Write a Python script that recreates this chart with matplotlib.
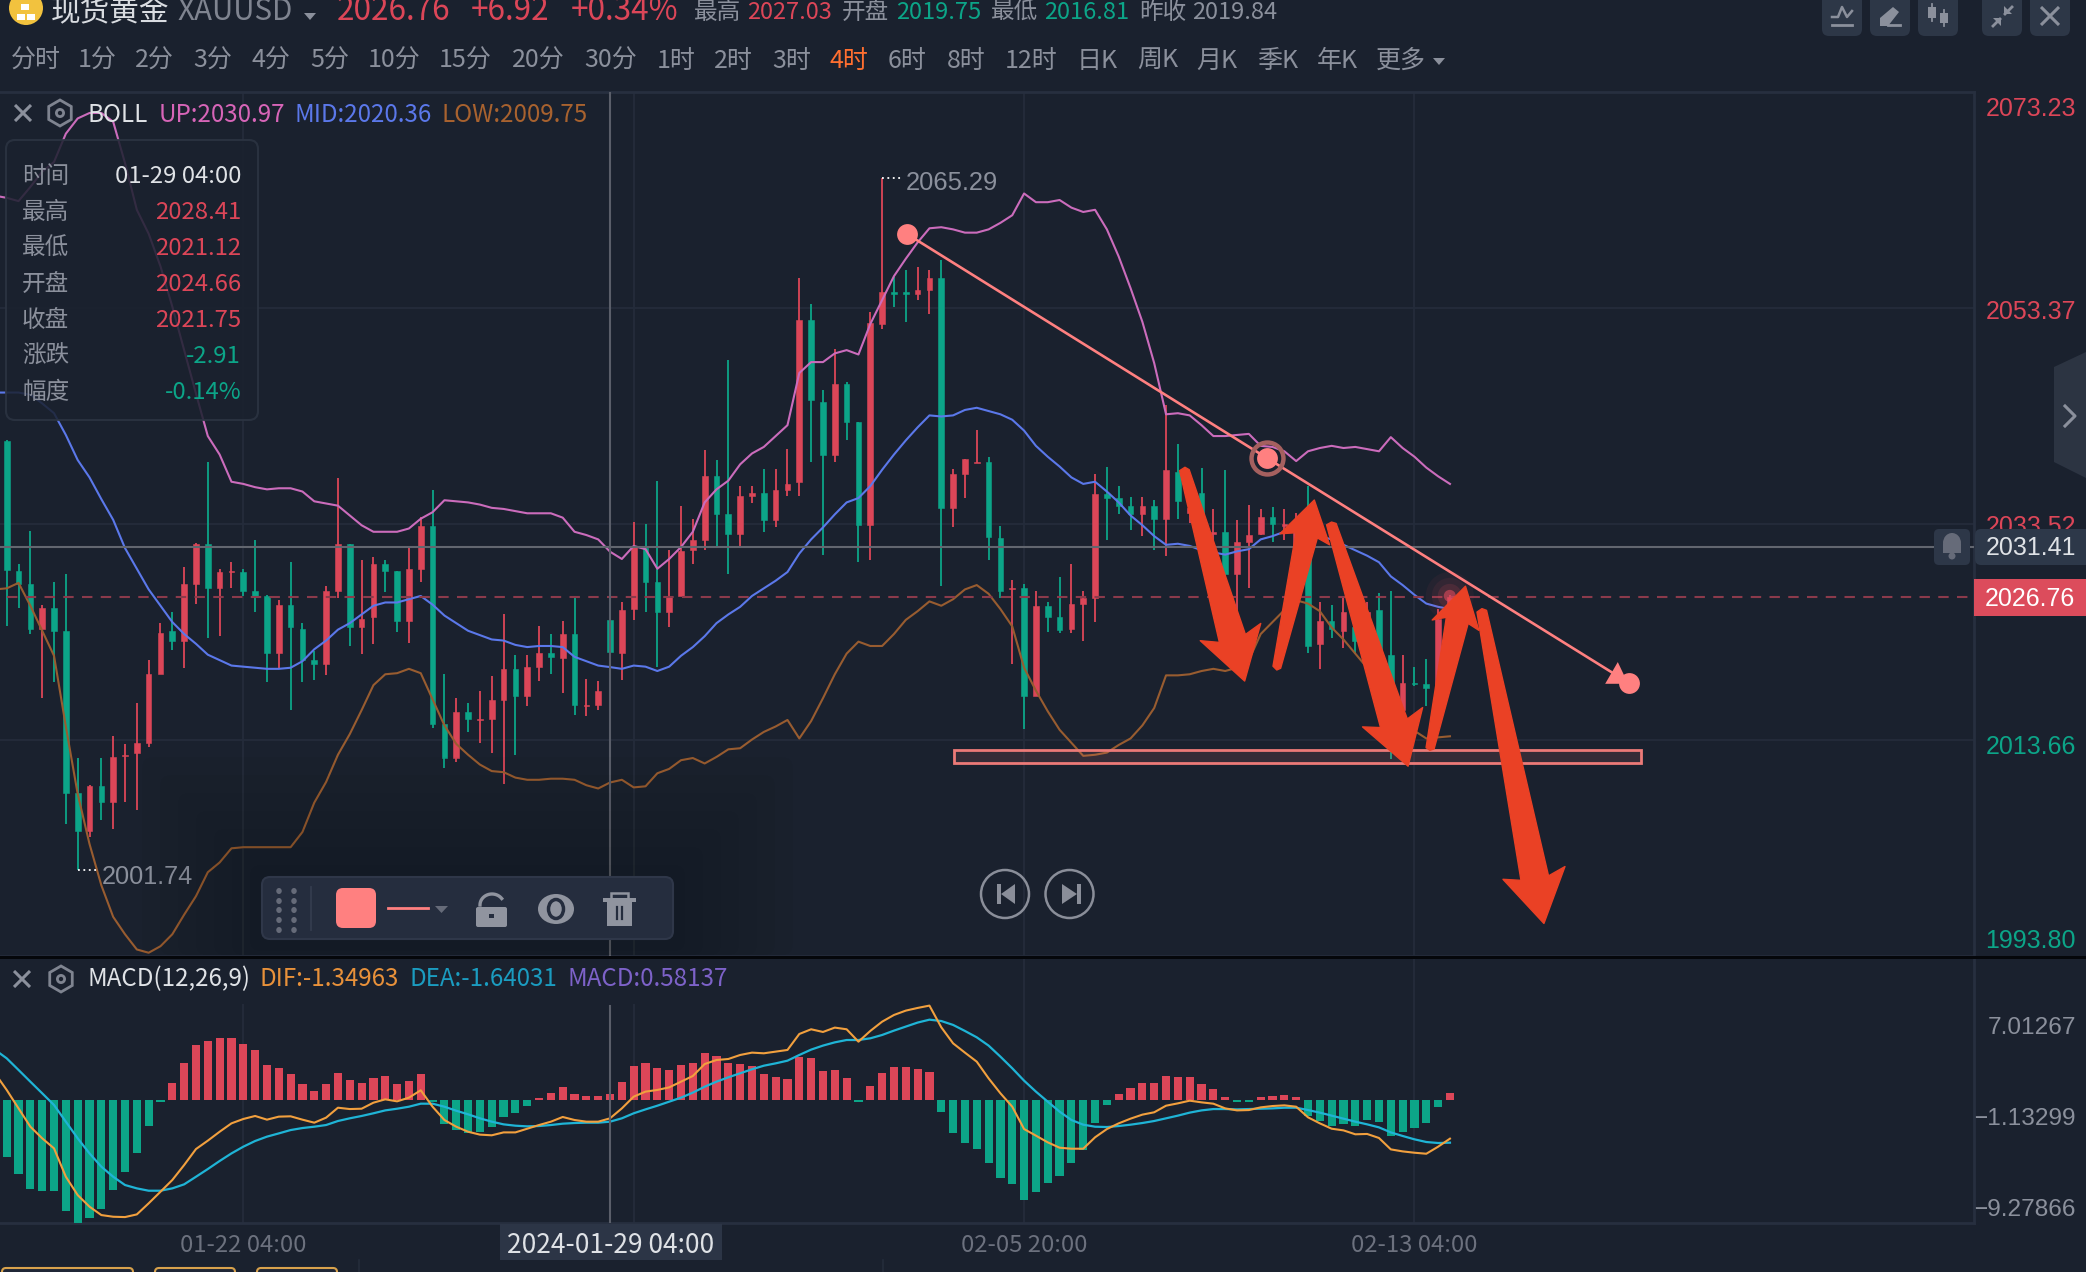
import numpy as np
import matplotlib
matplotlib.use("Agg")
import matplotlib.pyplot as plt
from matplotlib.patches import Polygon, Rectangle, FancyBboxPatch, Circle, Ellipse, RegularPolygon
from matplotlib.transforms import Affine2D

plt.rcParams['font.family'] = ['Noto Sans CJK SC', 'DejaVu Sans']

# ---------------- data ----------------
opens = [2041.1,2029.2,2028.0,2023.9,2025.8,2023.7,2008.8,2005.3,2009.4,2008.0,
 2012.2,2012.5,2013.4,2019.7,2023.7,2022.8,2028.0,2031.7,2027.6,2029.1,
 2029.1,2027.4,2026.9,2021.7,2026.1,2023.9,2021.0,2020.6,2027.4,2031.7,
 2024.0,2025.0,2029.8,2029.2,2024.6,2029.4,2033.3,2015.1,2012.0,2016.2,
 2015.5,2015.6,2017.3,2020.2,2017.7,2020.4,2021.7,2021.2,2023.4,2016.8,
 2016.9,2024.66,2021.7,2025.7,2031.3,2028.2,2025.4,2026.9,2031.1,2032.0,
 2037.9,2034.4,2032.6,2036.1,2036.4,2033.9,2036.6,2037.4,2052.3,2044.7,
 2039.9,2046.4,2042.9,2033.4,2051.9,2054.8,2054.8,2054.7,2055.0,2056.1,
 2035.0,2038.1,2039.1,2039.2,2032.2,2027.5,2027.6,2017.7,2026.0,2025.0,
 2023.9,2026.2,2026.7,2036.3,2035.9,2035.2,2034.4,2035.2,2034.0,2038.3,
 2034.5,2036.4,2032.6,2032.8,2028.9,2031.9,2032.6,2034.2,2033.3,2031.5,
 2032.4,2022.5,2024.6,2023.7,2024.0,2023.0,2025.6,2021.5,2016.4,2018.9,
 2018.8,2018.6,2024.8]
closes = [2029.3,2028.0,2023.9,2025.8,2023.7,2008.8,2005.3,2009.4,2008.0,2012.1,
 2012.3,2013.4,2019.7,2023.5,2022.8,2028.0,2031.7,2027.6,2029.1,2029.2,
 2027.4,2026.9,2021.7,2026.1,2024.0,2021.0,2020.6,2027.4,2031.7,2024.0,
 2024.8,2029.8,2029.2,2024.6,2029.4,2033.3,2015.1,2012.0,2016.2,2015.6,
 2015.6,2017.3,2020.2,2017.7,2020.4,2021.7,2021.3,2023.4,2016.9,2016.9,
 2018.2,2021.75,2025.6,2031.4,2028.2,2025.4,2026.9,2031.0,2032.0,2037.9,
 2034.4,2032.6,2036.1,2036.4,2033.9,2036.6,2037.2,2052.3,2044.9,2039.9,
 2046.4,2042.9,2033.4,2052.0,2054.8,2054.7,2054.7,2055.0,2056.1,2035.0,
 2038.1,2039.5,2039.2,2032.3,2027.4,2027.6,2017.7,2026.0,2025.0,2023.8,
 2026.2,2026.7,2036.3,2035.9,2035.2,2034.4,2035.2,2034.0,2038.5,2035.6,
 2035.0,2032.7,2032.8,2028.9,2031.9,2032.5,2034.2,2033.5,2033.5,2033.4,
 2022.3,2024.6,2023.9,2025.4,2022.8,2025.4,2021.5,2018.4,2018.9,2018.8,
 2018.4,2024.8,2026.76]
highs = [2041.2,2029.8,2032.9,2026.1,2028.2,2028.9,2012.0,2009.5,2012.0,2014.0,
 2013.3,2017.1,2021.0,2024.4,2025.4,2029.6,2031.8,2039.2,2029.4,2030.0,
 2029.4,2032.0,2027.0,2026.5,2030.0,2024.4,2021.8,2027.8,2037.7,2031.7,
 2030.2,2030.5,2030.2,2029.2,2031.4,2034.2,2036.6,2019.7,2017.5,2017.1,
 2018.2,2019.5,2025.2,2021.5,2021.5,2024.1,2023.4,2024.6,2026.7,2019.3,
 2019.1,2028.41,2026.3,2033.7,2033.5,2037.5,2031.1,2035.2,2034.0,2040.3,
 2039.4,2048.6,2037.0,2037.0,2038.6,2038.6,2040.4,2056.1,2053.7,2045.8,
 2049.6,2046.6,2042.9,2053.0,2065.29,2056.2,2056.9,2057.1,2056.9,2057.8,
 2038.6,2039.5,2042.2,2039.7,2033.3,2028.4,2028.0,2027.4,2026.3,2028.6,
 2029.8,2027.4,2038.1,2038.8,2037.0,2036.0,2036.0,2035.7,2044.5,2040.9,
 2036.2,2038.7,2034.9,2038.5,2033.9,2035.3,2034.9,2035.1,2034.9,2034.5,
 2037.0,2026.3,2026.1,2026.8,2024.6,2026.3,2027.2,2027.4,2021.5,2020.4,
 2021.1,2025.7,2027.03]
lows = [2024.1,2025.8,2023.4,2017.5,2019.0,2005.9,2001.74,2004.7,2006.3,2005.5,
 2008.0,2007.2,2013.0,2019.7,2021.9,2020.3,2026.2,2023.0,2023.2,2027.6,
 2026.9,2025.4,2019.0,2020.3,2016.4,2019.0,2019.2,2019.6,2026.7,2022.3,
 2021.6,2022.5,2027.3,2023.6,2022.6,2028.2,2014.8,2011.1,2011.6,2014.4,
 2013.4,2012.5,2009.6,2012.3,2016.8,2019.1,2019.7,2018.0,2016.0,2015.9,
 2016.4,2021.12,2019.2,2024.7,2025.4,2020.4,2024.0,2026.9,2029.8,2031.1,
 2031.5,2028.9,2031.5,2035.4,2032.8,2033.2,2036.1,2036.1,2039.2,2030.7,
 2039.2,2041.2,2030.0,2030.2,2051.4,2053.5,2052.1,2054.1,2052.8,2027.8,
 2033.2,2035.9,2039.1,2030.2,2026.7,2020.6,2014.7,2017.7,2023.6,2023.5,
 2023.5,2022.8,2024.5,2032.0,2034.4,2033.0,2032.4,2031.1,2030.6,2034.0,
 2033.6,2031.9,2029.7,2028.1,2024.9,2027.6,2032.5,2031.9,2032.0,2030.8,
 2021.7,2020.2,2023.0,2022.1,2021.6,2021.1,2019.5,2011.9,2014.8,2018.6,
 2016.8,2018.6,2024.4]
# indicator series start one bar before the first visible candle (index -1)
boll_up = [2063.7,2063.5,2063.2,2064.5,2065.9,2066.8,2069.4,2070.8,2071.3,2071.3,2070.5,
 2066.7,2062.4,2060.2,2057.2,2053.5,2049.5,2045.5,2041.6,2039.9,2037.4,
 2037.2,2036.9,2036.7,2036.8,2036.8,2036.5,2035.6,2035.4,2035.2,2034.3,
 2033.4,2032.8,2032.8,2032.8,2033.1,2034.0,2034.6,2035.7,2035.6,2035.5,
 2035.3,2035.0,2034.9,2034.7,2034.5,2034.5,2034.5,2034.1,2032.8,2032.5,
 2032.1,2030.97,2030.3,2031.5,2031.2,2029.4,2030.3,2031.4,2032.8,2035.5,
 2036.7,2037.5,2039.0,2040.0,2040.6,2041.6,2042.6,2047.4,2048.4,2048.4,
 2049.2,2049.5,2049.1,2051.9,2054.1,2056.3,2057.9,2059.4,2060.7,2060.8,
 2060.6,2060.3,2060.3,2060.6,2061.2,2061.9,2063.9,2063.1,2063.1,2063.3,
 2062.6,2062.2,2062.4,2060.6,2058.1,2055.2,2052.1,2048.3,2043.6,2043.7,
 2043.5,2042.6,2041.6,2041.6,2041.7,2041.8,2040.7,2040.6,2040.2,2039.3,
 2040.2,2040.5,2040.7,2040.5,2040.6,2040.4,2040.2,2041.5,2040.5,2039.7,
 2038.7,2037.9,2037.2]
boll_mid = [2045.6,2045.6,2045.6,2045.4,2044.6,2043.7,2041.7,2039.4,2037.8,2035.8,2033.9,
 2031.3,2029.4,2027.5,2026.0,2024.5,2023.4,2022.5,2021.5,2021.0,2020.5,
 2020.4,2020.3,2020.2,2020.2,2020.3,2020.9,2022.0,2022.8,2023.8,2024.4,
 2025.2,2026.0,2026.3,2026.3,2026.6,2026.9,2026.1,2025.1,2024.4,2023.7,
 2023.3,2022.9,2022.8,2022.4,2022.2,2022.3,2022.3,2022.2,2021.3,2020.9,
 2020.5,2020.36,2020.2,2020.5,2020.4,2020.0,2020.4,2021.4,2022.2,2023.2,
 2024.4,2025.2,2025.9,2026.9,2027.6,2028.3,2029.1,2030.8,2032.1,2033.2,
 2034.4,2035.5,2035.9,2037.0,2038.5,2039.9,2041.2,2042.4,2043.5,2043.4,
 2043.5,2044.0,2044.2,2043.9,2043.6,2043.1,2042.1,2040.7,2039.7,2038.8,
 2037.8,2037.2,2037.4,2036.5,2035.5,2034.3,2033.4,2032.4,2031.6,2031.7,
 2031.5,2031.1,2030.9,2030.7,2031.0,2031.2,2032.1,2032.4,2032.8,2033.2,
 2032.7,2032.4,2032.1,2031.6,2031.1,2030.6,2030.0,2028.7,2027.9,2027.0,
 2026.2,2025.9,2025.7]
boll_low = [2027.5,2027.6,2028.1,2026.0,2023.7,2021.4,2014.9,2008.7,2004.1,2000.3,1997.4,
 1995.8,1994.4,1994.1,1994.7,1995.8,1997.6,1999.3,2001.5,2002.4,2003.7,
 2003.8,2003.8,2003.8,2003.8,2003.8,2005.2,2007.9,2009.8,2012.3,2014.2,
 2016.4,2018.7,2019.7,2019.8,2020.2,2019.8,2017.4,2015.0,2013.3,2012.3,
 2011.4,2010.8,2010.7,2010.2,2010.0,2010.0,2010.1,2010.1,2010.0,2009.5,
 2009.2,2009.75,2010.0,2009.3,2009.4,2010.6,2011.0,2011.8,2012.0,2011.5,
 2012.1,2012.8,2012.9,2013.7,2014.4,2014.9,2015.5,2013.8,2015.4,2017.5,
 2019.7,2021.6,2022.7,2022.3,2022.3,2023.4,2024.7,2025.5,2026.4,2026.0,
 2026.6,2027.5,2027.9,2027.1,2025.7,2024.1,2020.3,2018.2,2016.3,2014.6,
 2013.4,2012.2,2012.3,2012.5,2013.2,2013.8,2015.0,2016.6,2019.6,2019.6,
 2019.7,2020.0,2020.2,2020.0,2020.3,2021.0,2023.4,2024.5,2025.6,2026.5,
 2026.2,2025.5,2024.0,2022.9,2021.6,2020.3,2019.1,2017.3,2015.6,2014.5,
 2013.8,2013.9,2014.0]
macd_hist = [-5.07,-6.66,-7.97,-8.12,-8.12,-9.94,-11.0,-10.54,-9.79,-8.06,
 -6.42,-4.72,-2.33,-0.18,1.52,3.31,4.93,5.25,5.52,5.52,
 5.01,4.48,3.13,2.90,2.33,1.40,0.78,1.40,2.42,1.79,
 1.52,2.0,2.15,1.46,1.70,2.36,-0.15,-2.12,-2.69,-2.93,
 -2.84,-2.39,-1.49,-1.19,-0.51,0.21,0.66,1.19,0.57,0.36,
 0.36,0.58,1.64,3.04,3.28,2.87,2.72,3.10,3.34,4.18,
 3.97,3.31,3.22,3.01,2.30,2.06,1.88,3.85,3.73,2.60,
 2.66,1.94,-0.15,1.25,2.42,2.96,2.96,2.78,2.54,-1.10,
 -2.96,-3.88,-4.39,-5.67,-6.99,-7.49,-8.96,-8.21,-7.46,-6.78,
 -5.61,-4.48,-2.06,-0.42,0.54,1.07,1.49,1.52,2.18,2.06,
 2.06,1.40,0.96,0.24,-0.15,-0.15,0.27,0.36,0.42,0.30,
 -1.40,-1.88,-2.30,-2.12,-2.30,-1.79,-1.94,-3.19,-2.87,-2.48,
 -2.09,-0.63,0.63]
dif = [2.40,0.90,-0.75,-2.39,-3.43,-4.33,-6.87,-8.51,-9.55,-10.30,-10.45,
 -10.48,-10.24,-9.25,-8.21,-7.16,-5.82,-4.39,-3.64,-2.84,-2.09,
 -1.70,-1.43,-1.76,-1.49,-1.46,-1.76,-2.03,-1.58,-0.69,-0.81,
 -0.78,-0.24,0.06,-0.12,0.21,0.87,-0.60,-1.79,-2.39,-2.84,
 -3.10,-3.16,-2.90,-2.90,-2.57,-2.24,-1.94,-1.52,-1.79,-1.94,
 -1.94,-1.64,-0.75,0.30,0.75,0.90,1.13,1.64,2.15,3.22,
 3.58,3.67,4.03,4.24,4.18,4.33,4.48,5.91,6.33,6.09,
 6.48,6.33,5.22,6.18,7.01,7.61,8.0,8.24,8.45,6.51,
 5.07,4.24,3.43,1.94,0.60,-0.60,-2.60,-3.19,-3.79,-4.27,
 -4.36,-4.36,-3.34,-2.60,-2.09,-1.67,-1.31,-1.10,-0.51,-0.30,
 -0.06,-0.21,-0.33,-0.75,-0.93,-0.90,-0.66,-0.54,-0.48,-0.60,
 -1.55,-2.09,-2.57,-2.72,-3.07,-3.04,-3.40,-4.42,-4.60,-4.72,
 -4.81,-4.18,-3.46]
dea = [4.50,3.73,2.69,1.64,0.60,-0.45,-1.94,-3.43,-4.78,-5.97,-6.87,
 -7.61,-7.91,-8.12,-8.12,-7.91,-7.55,-6.87,-6.18,-5.46,-4.78,
 -4.18,-3.67,-3.28,-2.99,-2.69,-2.51,-2.39,-2.24,-1.88,-1.64,
 -1.43,-1.19,-0.93,-0.78,-0.60,-0.33,-0.33,-0.60,-0.96,-1.28,
 -1.64,-1.94,-2.18,-2.30,-2.36,-2.33,-2.24,-2.12,-2.06,-2.03,
 -2.03,-1.94,-1.64,-1.19,-0.84,-0.51,-0.15,0.21,0.66,1.19,
 1.64,2.03,2.39,2.75,3.07,3.28,3.52,4.03,4.51,4.87,
 5.16,5.37,5.37,5.52,5.82,6.21,6.57,6.93,7.19,7.07,
 6.72,6.18,5.61,4.87,3.88,2.84,1.73,0.75,-0.15,-1.04,
 -1.79,-2.21,-2.39,-2.42,-2.33,-2.21,-2.06,-1.88,-1.64,-1.40,
 -1.13,-0.93,-0.81,-0.81,-0.84,-0.81,-0.78,-0.75,-0.69,-0.69,
 -0.90,-1.13,-1.40,-1.67,-1.94,-2.18,-2.45,-2.90,-3.22,-3.52,
 -3.76,-3.85,-3.82]

price_ticks = [2073.23, 2053.37, 2033.52, 2013.66, 1993.80]
price_tick_labels = ['2073.23', '2053.37', '2033.52', '2013.66', '1993.80']
macd_ticks = [7.01267, -1.13299, -9.27866]
macd_tick_labels = ['7.01267', '−1.13299', '−9.27866']
time_tick_idx = [20, 53, 86, 119]
time_tick_labels = ['01-22 04:00', '', '02-05 20:00', '02-13 04:00']
last_price = 2026.76
cross_price = 2031.41
cross_idx = 51
trend_idx = [76.08, 106.57, 137.13]
trend_price = [2060.19, 2039.55, 2018.9]
zone_idx = [80.08, 138.15]
zone_price = [2011.57, 2012.77]
periods = ['分时','1分','2分','3分','4分','5分','10分','15分','20分','30分','1时','2时','3时','4时',
           '6时','8时','12时','日K','周K','月K','季K','年K','更多']

# ---------------- styles ----------------
W, H = 2086, 1272
BG = '#1a212e'; GRID = '#242c3b'; RED = '#dc4658'; GREEN = '#0ca588'
GRAY = '#8b909c'; LIGHT = '#dfe2e6'; BORDER = '#272f3f'; SALMON = '#ff8080'
ARROW = '#ea4125'
CJK = ['Noto Sans CJK SC', 'DejaVu Sans']
LAT = ['Liberation Sans', 'DejaVu Sans']

x0_px, dx_px = 6.7, 11.83
xlim = ((0 - x0_px) / dx_px, (1974 - x0_px) / dx_px)

fig = plt.figure(figsize=(W / 100, H / 100), dpi=100, facecolor=BG)
def rect(l, t, r, b):
    return [l / W, 1 - b / H, (r - l) / W, (b - t) / H]

ax = fig.add_axes(rect(0, 92, 1974, 956), facecolor=BG)
am = fig.add_axes(rect(0, 957, 1974, 1223), facecolor=BG)
ov = fig.add_axes([0, 0, 1, 1], facecolor='none', zorder=10)
ov.set_xlim(0, W); ov.set_ylim(H, 0); ov.axis('off')

xs = np.arange(len(closes))
line_xs = np.arange(-1, len(closes))
o, c, hi, lo = map(np.array, (opens, closes, highs, lows))
cols = np.where(c >= o, RED, GREEN)

# --- price pane
ax.set_xlim(*xlim); ax.set_ylim(1993.80, 2073.23)
ax.vlines(xs, lo, hi, colors=cols, lw=1.3, zorder=3)
bt, bb = np.maximum(o, c), np.minimum(o, c)
ax.bar(xs, np.maximum(bt - bb, 0.12), bottom=bb, width=0.48, color=cols, edgecolor=cols, lw=0.4, zorder=4)
ax.plot(line_xs, boll_up, color='#cb6cbc', lw=1.5, zorder=5, solid_joinstyle='round')
ax.plot(line_xs, boll_mid, color='#5b78ea', lw=1.5, zorder=5, solid_joinstyle='round')
ax.plot(line_xs, boll_low, color='#985c30', lw=1.5, zorder=5, solid_joinstyle='round')
ax.set_xticks(time_tick_idx); ax.set_xticklabels([])
ax.set_yticks(price_ticks); ax.set_yticklabels(price_tick_labels)
ax.grid(True, color=GRID, lw=1.3, zorder=0); ax.set_axisbelow(True)
ax.tick_params(length=0, left=False, right=False, bottom=False, labelleft=False, labelright=True, labelbottom=False)
for s in ('left', 'bottom'):
    ax.spines[s].set_visible(False)
for s in ('top', 'right'):
    ax.spines[s].set_color(BORDER); ax.spines[s].set_linewidth(2)
offsets = [15, 1, 1, 5, -18]
tick_cols = [RED, RED, RED, GREEN, GREEN]
for lab, dy, col in zip(ax.get_yticklabels(), offsets, tick_cols):
    lab.set_color(col); lab.set_fontsize(18); lab.set_fontfamily(LAT); lab.set_ha('right')
    lab.set_transform(lab.get_transform() + Affine2D().translate(97, -dy))

ax.plot([xlim[0] + 0.55, (1968 - x0_px) / dx_px], [last_price] * 2, color='#8b3a4b', lw=1.5, dashes=(5, 4), zorder=6)
ax.axhline(cross_price, color='#62666f', lw=1.5, zorder=6)
ax.axvline(cross_idx, color='#5a5e69', lw=1.5, zorder=6)
ax.plot([74, 75.6], [2065.29] * 2, color='white', lw=1.3, ls=(0, (1, 2)), zorder=6)
ax.plot([6, 7.6], [2001.74] * 2, color='white', lw=1.3, ls=(0, (1, 2)), zorder=6)
ax.annotate('2065.29', (74, 2065.29), xytext=(24, -5), textcoords='offset pixels', va='center', ha='left',
            color=GRAY, fontsize=18.4, fontfamily=LAT, zorder=7)
ax.annotate('2001.74', (6, 2001.74), xytext=(24, -7), textcoords='offset pixels', va='center', ha='left',
            color=GRAY, fontsize=18.2, fontfamily=LAT, zorder=7)

# drawn objects
ax.add_patch(Rectangle((zone_idx[0], zone_price[0]), zone_idx[1] - zone_idx[0], zone_price[1] - zone_price[0],
                       facecolor=(1, 0.5, 0.5, 0.12), edgecolor='#ec7a78', lw=2, zorder=7))
ax.plot(trend_idx, trend_price, color=SALMON, lw=1.9, zorder=8)
ax.plot(trend_idx[1], trend_price[1], 'o', ms=23, mfc='none', mec='#a5605f', mew=3.2, zorder=8)
ax.plot(trend_idx, trend_price, 'o', ms=15, color=SALMON, mew=0, zorder=9)

# --- MACD pane
am.set_xlim(*xlim); am.set_ylim(-11.01, 12.80)
h = np.array(macd_hist)
am.bar(xs, h, width=0.69, color=np.where(h >= 0, RED, GREEN), zorder=3)
am.plot(line_xs, dea, color='#1fb4d6', lw=1.6, zorder=5)
am.plot(line_xs, dif, color='#f2a03e', lw=1.5, zorder=6)
am.set_xticks(time_tick_idx); am.set_xticklabels(time_tick_labels, fontsize=17.2, color='#6c717e', fontfamily=CJK)
am.xaxis.grid(True, color=GRID, lw=1.3, zorder=0); am.set_axisbelow(True)
am.set_yticks(macd_ticks); am.set_yticklabels(macd_tick_labels)
am.tick_params(length=0, left=False, right=False, bottom=False, labelleft=False, labelright=True, pad=6)
for lab in am.get_xticklabels():
    lab.set_transform(lab.get_transform() + Affine2D().translate(0, -3))
for lab in am.get_yticklabels():
    lab.set_color(GRAY); lab.set_fontsize(17.6); lab.set_fontfamily(LAT); lab.set_ha('right')
    lab.set_transform(lab.get_transform() + Affine2D().translate(94, -3.5))
for s in ('left', 'top'):
    am.spines[s].set_visible(False)
for s in ('right', 'bottom'):
    am.spines[s].set_color(BORDER); am.spines[s].set_linewidth(2)
am.add_patch(Rectangle((0, 0.825), (740) / 1974, 0.175, transform=am.transAxes, color=BG, zorder=7, lw=0))
am.plot([cross_idx, cross_idx], [-11.01, 8.4], color='#5a5e69', lw=1.5, zorder=8)

# --- overlay helpers
def T(x, y, s, col=LIGHT, size=17, ha='left', va='center', fam=CJK, **kw):
    return ov.text(x, y, s, color=col, fontsize=size, ha=ha, va=va, fontfamily=fam, **kw)

def cross(x, y, r, col=GRAY, lw=2.2):
    ov.plot([x - r, x + r], [y - r, y + r], color=col, lw=lw, solid_capstyle='butt')
    ov.plot([x - r, x + r], [y + r, y - r], color=col, lw=lw, solid_capstyle='butt')

def hexa(x, y):
    ov.add_patch(RegularPolygon((x, y), 6, radius=13, facecolor='none', edgecolor='#7f8490', lw=2))
    ov.add_patch(Circle((x, y), 3.6, facecolor='none', edgecolor='#7f8490', lw=2))

def rbox(l, t, r, b, fc, ec='none', rad=6, lw=1, alpha=None, z=2):
    ov.add_patch(FancyBboxPatch((l + rad, t + rad), r - l - 2 * rad, b - t - 2 * rad,
                 boxstyle=f'round,pad={rad}', fc=fc, ec=ec, lw=lw, alpha=alpha, zorder=z))

# --- red hand-drawn arrows (crop coordinates of the annotated area)
z4 = lambda pts: [(x / 2.613 + 1100, y / 2.9 + 400) for x, y in pts]
arrows = [
    [(208, 205), (222, 195), (233, 202), (380, 680), (420, 648), (378, 815), (262, 698), (312, 703)],
    [(452, 772), (462, 783), (472, 778), (568, 400), (600, 420), (560, 290), (470, 388), (512, 385)],
    [(592, 362), (605, 354), (617, 358), (803, 925), (843, 892), (805, 1062), (686, 948), (733, 950)],
    [(852, 1008), (862, 1016), (873, 1012), (962, 648), (990, 668), (955, 540), (868, 638), (905, 630)],
    [(985, 615), (998, 605), (1010, 610), (1172, 1380), (1215, 1353), (1160, 1518), (1053, 1390), (1100, 1393)],
]
# glow of the last price
gx, gy = 914 / 2.613 + 1100, 568 / 2.9 + 400
for r, a in [(24, .06), (18, .08), (12, .14), (6, .6)]:
    ov.add_patch(Circle((gx, gy), r, color='#e04a5c', alpha=a, lw=0, zorder=1))
for a in arrows:
    ov.add_patch(Polygon(z4(a), closed=True, fc=ARROW, ec=ARROW, lw=1, joinstyle='round', zorder=3))
ov.add_patch(Polygon(z4([(1320, 823), (1353, 760), (1380, 823)]), closed=True, fc=SALMON, ec='none', zorder=3))

# --- frame lines
ov.add_patch(Rectangle((0, 955.5), W, 3, color='#05070b', lw=0, zorder=2))

# --- header
ov.add_patch(Circle((26, 8), 17, color='#f2c23e', lw=0))
for (a, b, w) in [(21, 6, 8), (17, 16, 8), (27, 16, 8)]:
    ov.add_patch(Rectangle((a, b - 2), w, 6, color='white', lw=0))
T(51, 20, '现货黄金', '#d9dce1', 21.3, va='baseline')
T(178, 20, 'XAUUSD', '#7f8490', 21.3, va='baseline')
ov.add_patch(Polygon([(304, 13), (316, 13), (310, 20)], color=GRAY, lw=0))
T(337, 20, '2026.76', RED, 22.7, va='baseline')
T(471, 20, '+6.92', RED, 22.7, va='baseline')
T(571, 20, '+0.34%', RED, 22.7, va='baseline')
for x, s, col in [(694, '最高', GRAY), (747, '2027.03', RED), (842, '开盘', GRAY), (896, '2019.75', GREEN),
                  (991, '最低', GRAY), (1044, '2016.81', GREEN), (1139, '昨收', GRAY), (1192, '2019.84', GRAY)]:
    T(x, 19, s, col, 17, va='baseline')

centers = [27, 73, 116, 160, 204, 248, 296, 350, 405, 459, 508, 551, 595, 638, 682, 726, 775, 825, 870, 915, 960, 1005, 1053]
for cx, s in zip(centers, periods):
    T(cx * 1.3304, 60.5, s, '#ff6f30' if s == '4时' else GRAY, 18, ha='center')
ov.add_patch(Polygon([(1433, 58), (1445, 58), (1439, 65)], color=GRAY, lw=0))

# top right buttons
for l, r in [(1822, 1862), (1870, 1910), (1918, 1958), (1982, 2022), (2030, 2070)]:
    rbox(l, -12, r, 36, '#2d3747', rad=7, z=1)
ov.plot([1832, 1852], [25, 25], color=GRAY, lw=2)
ov.plot([1832, 1838, 1842, 1847, 1852], [17, 17, 7, 17, 11], color=GRAY, lw=1.8)
ov.add_patch(Polygon([(1880, 26), (1880, 18), (1893, 7), (1899, 12), (1888, 26)], color=GRAY, lw=0, zorder=3))
ov.plot([1888, 1900], [25, 25], color=GRAY, lw=2)
for x, y0, y1, b0, b1 in [(1932, 4, 21, 7, 18), (1944, 10, 26, 13, 23)]:
    ov.plot([x, x], [y0, y1], color=GRAY, lw=1.3)
    ov.add_patch(Rectangle((x - 4, b0), 8, b1 - b0, color=GRAY, lw=0, zorder=3))
ov.plot([1993, 2000], [26, 19], color=GRAY, lw=2); ov.plot([2005, 2012], [14, 7], color=GRAY, lw=2)
ov.add_patch(Polygon([(1993, 18), (2001, 18), (2001, 26)], color=GRAY, lw=0, zorder=3))
ov.add_patch(Polygon([(2004, 6), (2004, 14), (2012, 14)], color=GRAY, lw=0, zorder=3))
cross(2050, 16, 9)

# legend rows
cross(23, 113, 8); hexa(60, 113)
T(88, 114.5, 'BOLL', LIGHT, 17.4)
T(158.5, 114.5, 'UP:2030.97', '#d765b8', 17.4)
T(294.5, 114.5, 'MID:2020.36', '#5b78ea', 17.4)
T(441.5, 114.5, 'LOW:2009.75', '#a8622f', 17.4)
cross(22, 979, 8); hexa(61, 979)
T(88, 979.5, 'MACD(12,26,9)', LIGHT, 17.4)
T(260, 979.5, 'DIF:-1.34963', '#e8913a', 17.4)
T(409.5, 979.5, 'DEA:-1.64031', '#1b9cc0', 17.4)
T(567, 979.5, 'MACD:0.58137', '#7d62c8', 17.4)

# tooltip
rbox(6, 140, 258, 420, BG, ec='#2c3442', rad=9, lw=1.5, alpha=0.86, z=3)
rows = [('时间', '01-29 04:00', LIGHT), ('最高', '2028.41', RED), ('最低', '2021.12', RED), ('开盘', '2024.66', RED),
        ('收盘', '2021.75', RED), ('涨跌', '-2.91', GREEN), ('幅度', '-0.14%', GREEN)]
for k, (a, b, col) in enumerate(rows):
    y = 176.5 + 36 * k
    T(22, y, a, GRAY, 17, zorder=4)
    T(241, y, b, col, 17.2, ha='right', zorder=4)

# right side price labels
rbox(1934, 529, 1970, 565, '#2d3748', rad=5)
ov.add_patch(Ellipse((1952, 543), 18, 20, color='#666b79', lw=0, zorder=3))
ov.add_patch(Rectangle((1943, 544), 18, 9, color='#666b79', lw=0, zorder=3))
ov.add_patch(Circle((1952, 556), 3.5, color='#666b79', lw=0, zorder=3))
rbox(1975, 529, 2100, 565, '#2d3849', rad=6)
T(2031, 548, '2031.41', LIGHT, 18, ha='center', fam=LAT, zorder=3)
ov.add_patch(Rectangle((1974, 579), 112, 37, color='#dc4c5c', lw=0))
T(2030, 599, '2026.76', 'white', 18, ha='center', fam=LAT, zorder=3)
ov.add_patch(Polygon([(2054, 367), (2086, 352), (2086, 478), (2054, 462)], color='#2c3442', lw=0))
ov.plot([2065, 2075, 2065], [406, 416, 426], color=GRAY, lw=2.2)

# drawing toolbar with its soft shadow (each faint layer darkens by about one 8-bit level)
for pad in (12, 30, 48, 66, 84, 102, 120):
    rbox(262 - pad, 877 - pad, 673 + pad, min(939 + pad, 955), 'black', rad=12, alpha=0.025, z=1)
rbox(262, 877, 673, 939, '#252d3e', ec='#2f3749', rad=8, lw=1.5)
for xd in (279, 294):
    for yd in (891, 901, 910, 920, 930):
        ov.add_patch(Ellipse((xd, yd), 5.5, 6, color='#666b79', lw=0, zorder=3))
ov.plot([310.6, 310.6], [887, 930], color='#343c4e', lw=1.3, zorder=3)
rbox(336, 888, 376, 928, SALMON, rad=7, z=3)
ov.plot([388, 428], [908, 908], color=SALMON, lw=2, zorder=3)
ov.add_patch(Polygon([(435, 906), (448, 906), (441.5, 913)], color='#666b79', lw=0, zorder=3))
rbox(476, 907, 507, 927, '#90949f', rad=2, z=3)
ov.add_patch(Rectangle((489, 914), 5, 4, color='#252d3e', lw=0, zorder=4))
theta = np.linspace(np.pi, 0.2 * np.pi, 30)
ov.plot(492 + 12 * np.cos(theta), 905 - 11 * np.sin(theta), color='#90949f', lw=2.4, zorder=3)
ov.add_patch(Ellipse((556, 909), 36, 30, color='#90949f', lw=0, zorder=3))
ov.add_patch(Ellipse((556, 909), 15, 19, fc='#90949f', ec='#252d3e', lw=2.5, zorder=4))
ov.add_patch(Polygon([(607, 902), (632, 902), (632, 926), (607, 926)], color='#90949f', lw=0, zorder=3))
ov.add_patch(Rectangle((603, 898), 33, 4, color='#90949f', lw=0, zorder=3))
ov.add_patch(Rectangle((611, 893), 17, 6, fc='none', ec='#90949f', lw=1.8, zorder=3))
ov.plot([617, 617], [907, 919], color='#252d3e', lw=1.6, zorder=4)
ov.plot([622, 622], [907, 919], color='#252d3e', lw=1.6, zorder=4)

# nav buttons
for cx in (1005, 1069.5):
    ov.add_patch(Circle((cx, 894), 24, fc='none', ec='#8a8e99', lw=1.8, zorder=3))
ov.add_patch(Rectangle((997, 884), 4, 20, color='#8a8e99', lw=0, zorder=3))
ov.add_patch(Polygon([(1001, 894), (1015, 884), (1015, 904)], color='#8a8e99', lw=0, zorder=3))
ov.add_patch(Rectangle((1077, 884), 4, 20, color='#8a8e99', lw=0, zorder=3))
ov.add_patch(Polygon([(1077, 894), (1062, 884), (1062, 904)], color='#8a8e99', lw=0, zorder=3))

# bottom
ov.add_patch(Rectangle((500, 1224), 222, 36, color='#2c3546', lw=0, zorder=3))
T(611, 1245.5, '2024-01-29 04:00', LIGHT, 19, ha='center', zorder=4)
for l, r in [(2, 133), (155, 235), (257, 337)]:
    rbox(l, 1268, r, 1290, '#202736', ec='#d8a24c', rad=4, lw=1.5)
ov.plot([359, 359], [1260, 1272], color=GRID, lw=1.2)
ov.plot([883, 883], [1260, 1272], color=GRID, lw=1.2)

fig.savefig('out.png', dpi=100, facecolor=BG)
